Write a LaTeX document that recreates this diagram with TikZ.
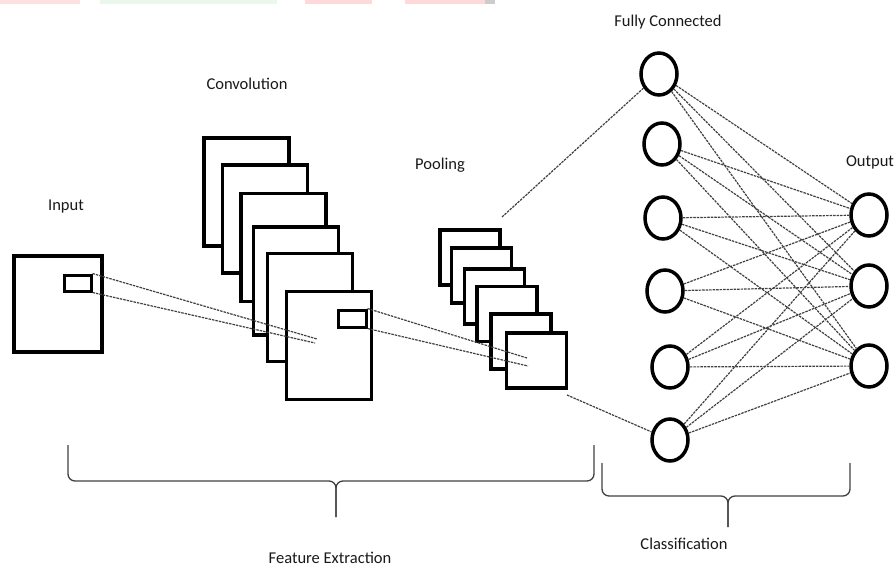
\documentclass[tikz,border=0pt]{standalone}
\usepackage{fontspec}
\setmainfont{Carlito}
\usetikzlibrary{shapes.geometric,positioning}

\begin{document}
\begin{tikzpicture}[x=1pt,y=-1pt]
    \tikzstyle{fmap}=[rectangle,draw=black,line width=3.5pt,fill=white,inner sep=0pt]
    \tikzstyle{conv map}=[fmap,minimum width=85,minimum height=108]
    \tikzstyle{pool map}=[fmap,minimum width=60,minimum height=55]
    \tikzstyle{window}=[fmap,line width=3pt,minimum width=27,minimum height=16]
    \tikzstyle{neuron}=[ellipse,draw=black,line width=3.5pt,fill=white,minimum width=36,minimum height=42,inner sep=0pt]
    \tikzstyle{link}=[draw=black!75,line width=1.2pt,dash pattern=on 2.5pt off 1pt]
    \tikzstyle{annot}=[font=\fontsize{16.5}{20}\selectfont,text=black!90]
    \tikzstyle{bracket}=[draw=black!75,line width=1.3pt,rounded corners=7pt]

    \useasboundingbox (0,0) rectangle (895,567);
    % faint strips along the top edge
    \fill[red!12] (0,0) rectangle (80,4);
    \fill[green!60!black!8] (100,0) rectangle (277,4);
    \fill[red!15] (305,0) rectangle (372,4);
    \fill[red!15] (405,0) rectangle (485,4);
    \fill[black!20] (485,0) rectangle (495,4);

    % Input image
    \node[fmap,minimum width=88,minimum height=96] (input) at (58,304) {};
    \node[window] (in-win) at (77.5,283) {};

    % Convolution maps, back to front
    \foreach \name/\x/\y in {1/246.5/192,2/265/219,3/283.5/247.5,4/296/281,5/310/307.5,6/329/345.5}
        \node[conv map] (conv-\name) at (\x,\y) {};
    \node[window,minimum width=28,minimum height=17] (conv-win) at (352,318.5) {};

    % Pooling maps
    \foreach \name/\x/\y in {1/470/257.5,2/481.5/275.5,3/494.5/296.5,4/507/314,5/521/341.5,6/536.5/360.5}
        \node[pool map] (pool-\name) at (\x,\y) {};

    % Fully connected and output neurons
    \foreach \name/\x/\y in {1/659/74,2/662/144,3/663/218,4/665/291,5/670/367,6/670/440}
        \node[neuron] (fc-\name) at (\x,\y) {};
    \foreach \name/\y in {1/215,2/286,3/366}
        \node[neuron] (out-\name) at (869,\y) {};

    % free ends of the dashed lines
    \coordinate (conv-hit-a) at (317,339);
    \coordinate (conv-hit-b) at (315,343);
    \coordinate (pool-hit-a) at (527,358);
    \coordinate (pool-hit-b) at (528,366);
    \coordinate (pool-top) at (502,217);
    \coordinate (pool-bot) at (567,395);

    \draw[link] (in-win.north east) -- (conv-hit-a);
    \draw[link] (in-win.south east) -- (conv-hit-b);
    \draw[link] (conv-win.north east) -- (pool-hit-a);
    \draw[link] (conv-win.south east) -- (pool-hit-b);
    \draw[link] (pool-top) -- (fc-1);
    \draw[link] (pool-bot) -- (fc-6);
    \foreach \i in {1,...,6}
        \foreach \j in {1,2,3}
            \draw[link] (fc-\i) -- (out-\j);

    % Braces
    \draw[bracket] (68,445) -- (68,481) -- (336,481) -- (336,517);
    \draw[bracket] (594,445) -- (594,481) -- (336,481) -- (336,517);
    \draw[bracket] (602,463) -- (602,496) -- (728,496) -- (728,527);
    \draw[bracket] (850,463) -- (850,496) -- (728,496) -- (728,527);

    % Annotate the stages
    \node[annot] (lbl-input) at (66,207) {Input};
    \node[annot] (lbl-conv) at (247,84) {Convolution};
    \node[annot] (lbl-pool) at (440,165) {Pooling};
    \node[annot] (lbl-fc) at (668,22) {Fully Connected};
    \node[annot] (lbl-out) at (870,162) {Output};
    \node[annot] (lbl-feat) at (330,558) {Feature Extraction};
    \node[annot] (lbl-class) at (684,544) {Classification};
\end{tikzpicture}
\end{document}
